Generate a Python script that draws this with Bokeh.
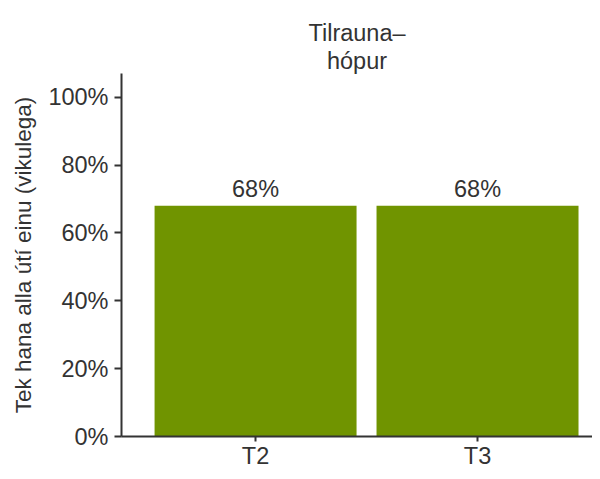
from bokeh.plotting import figure
from bokeh.models import Range1d, FixedTicker, NumeralTickFormatter, Title, ColumnDataSource, LabelSet
from bokeh.core.properties import value
from bokeh.embed import file_html
from bokeh.resources import INLINE

categories = ["T2", "T3"]
values = [0.68, 0.68]
value_labels = ["68%", "68%"]
y_ticks = [0.0, 0.2, 0.4, 0.6, 0.8, 1.0]
title_lines = ["Tilrauna–", "hópur"]
y_label = "Tek hana alla útí einu (vikulega)"

xpos = [i + 0.5 for i in range(len(categories))]
src = ColumnDataSource(dict(x=xpos, top=values, lab=value_labels))

FONT = "Liberation Sans"
TXT = "#333333"
FS = "23.5px"

p = figure(width=592, height=471, output_backend="svg", toolbar_location=None,
           x_range=Range1d(-0.104, 2.018), y_range=Range1d(0, 1.07),
           min_border_left=121, min_border_right=0, min_border_bottom=30, min_border_top=73)
p.title.visible = False
p.add_layout(Title(text=title_lines[1], align="center", text_font=FONT, text_font_size=FS,
                   text_font_style="normal", text_color=TXT, standoff=0, offset=8), "above")
p.add_layout(Title(text=title_lines[0], align="center", text_font=FONT, text_font_size=FS,
                   text_font_style="normal", text_color=TXT, standoff=0, offset=8), "above")

p.vbar(x="x", top="top", bottom=0, width=0.91, source=src, color="#709400", line_color=None)
p.add_layout(LabelSet(x="x", y="top", text="lab", source=src, text_align="center",
                      text_baseline="bottom", y_offset=4, text_font=value(FONT),
                      text_font_size=value(FS), text_color=TXT))

p.grid.visible = False
p.outline_line_color = None
p.background_fill_color = "white"
p.border_fill_color = "white"

for ax in (p.xaxis[0], p.yaxis[0]):
    ax.axis_line_color = TXT
    ax.axis_line_width = 2
    ax.major_tick_line_color = TXT
    ax.major_tick_line_width = 2
    ax.major_tick_in = 0
    ax.minor_tick_line_color = None
    ax.major_label_text_font = FONT
    ax.major_label_text_font_size = FS
    ax.major_label_text_color = TXT

p.xaxis[0].ticker = FixedTicker(ticks=xpos)
p.xaxis[0].major_label_overrides = {x: c for x, c in zip(xpos, categories)}
p.xaxis[0].major_tick_out = 5
p.xaxis[0].major_label_standoff = 1
p.xaxis[0].major_label_text_line_height = 1.0

p.yaxis[0].ticker = FixedTicker(ticks=y_ticks)
p.yaxis[0].formatter = NumeralTickFormatter(format="0%")
p.yaxis[0].major_tick_out = 7
p.yaxis[0].major_label_standoff = 6
p.yaxis[0].axis_label = y_label
p.yaxis[0].axis_label_text_font = FONT
p.yaxis[0].axis_label_text_font_size = "22.5px"
p.yaxis[0].axis_label_text_font_style = "normal"
p.yaxis[0].axis_label_text_color = TXT
p.yaxis[0].axis_label_standoff = 9

open("out.html", "w").write(file_html(p, INLINE))
